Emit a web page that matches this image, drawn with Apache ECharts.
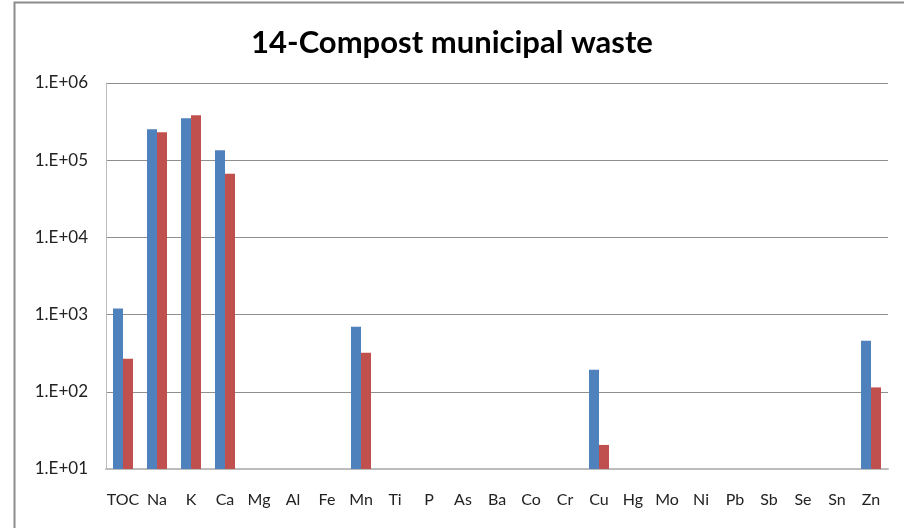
<!DOCTYPE html>
<html>
<head>
<meta charset="utf-8">
<script src="https://cdn.jsdelivr.net/npm/echarts@6/dist/echarts.min.js"></script>
<style>
  html, body { margin: 0; padding: 0; background: #fff; }
  #chart { width: 904px; height: 528px; }
</style>
</head>
<body>
<div id="chart"></div>
<script>
// elements along the x axis
const elements = ['TOC', 'Na', 'K', 'Ca', 'Mg', 'Al', 'Fe', 'Mn', 'Ti', 'P', 'As', 'Ba',
  'Co', 'Cr', 'Cu', 'Hg', 'Mo', 'Ni', 'Pb', 'Sb', 'Se', 'Sn', 'Zn'];

// (log scale), null = no bar
const blueValues = [1200, 252000, 350000, 135000, null, null, null, 695, null, null, null, null,
  null, null, 193, null, null, null, null, null, null, null, 457];
const redValues = [267, 231000, 383000, 67000, null, null, null, 320, null, null, null, null,
  null, null, 20.5, null, null, null, null, null, null, null, 114];

const yMin = 10;
const yMax = 1e6;

const chart = echarts.init(document.getElementById('chart'));

const fontFamily = 'Lato, "Open Sans", sans-serif';

chart.setOption({
  backgroundColor: '#fff',
  animation: false,
  title: {
    text: '14-Compost municipal waste',
    left: 'center',
    top: 22,
    textStyle: {
      fontFamily: fontFamily,
      fontSize: 31,
      fontWeight: 'bold',
      color: '#000'
    }
  },
  graphic: [{
    type: 'polyline',
    shape: { points: [[14.5, 528], [14.5, 2.5], [904, 2.5]] },
    style: { stroke: '#8c8c8c', lineWidth: 2, fill: null },
    silent: true
  }],
  grid: {
    left: 106,
    right: 16,
    top: 83,
    bottom: 59
  },
  xAxis: {
    type: 'category',
    data: elements,
    axisTick: { show: false },
    axisLine: { lineStyle: { color: '#bcbcbc', width: 2 } },
    axisLabel: {
      interval: 0,
      margin: 23,
      fontFamily: fontFamily,
      fontSize: 16,
      color: '#222'
    }
  },
  yAxis: {
    type: 'log',
    logBase: 10,
    min: yMin,
    max: yMax,
    axisLine: { show: true, lineStyle: { color: '#bcbcbc', width: 1 } },
    axisTick: { show: false },
    splitLine: { lineStyle: { color: '#8e8e8e', width: 1 } },
    axisLabel: {
      margin: 18,
      fontFamily: fontFamily,
      fontSize: 17,
      color: '#222',
      formatter: function (v) {
        const e = Math.round(Math.log10(v));
        return '1.E+' + (e < 10 ? '0' + e : e);
      }
    }
  },
  series: [
    {
      type: 'bar',
      data: blueValues,
      barWidth: 10,
      barGap: '0%',
      itemStyle: { color: '#4F81BD' }
    },
    {
      type: 'bar',
      data: redValues,
      barWidth: 10,
      itemStyle: { color: '#C0504D' }
    }
  ]
});
</script>
</body>
</html>
